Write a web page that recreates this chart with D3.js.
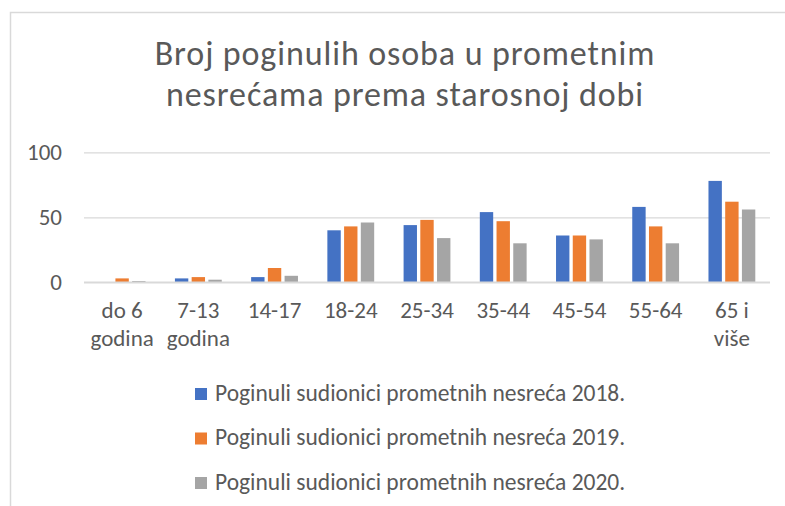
<!DOCTYPE html>
<html>
<head>
<meta charset="utf-8">
<script src="https://cdn.jsdelivr.net/npm/d3@7"></script>
<style>
  html, body { margin: 0; padding: 0; background: #fff; }
  svg { display: block; }
  text { font-family: Carlito, Calibri, Lato, "Open Sans", sans-serif; fill: #595959; }
</style>
</head>
<body>
<svg id="chart" width="785" height="506"></svg>
<script>
const titleLines = ["Broj poginulih osoba u prometnim", "nesrećama prema starosnoj dobi"];
const categories = ["do 6 godina", "7-13 godina", "14-17", "18-24", "25-34", "35-44", "45-54", "55-64", "65 i više"];
const seriesNames = ["Poginuli sudionici prometnih nesreća 2018.", "Poginuli sudionici prometnih nesreća 2019.", "Poginuli sudionici prometnih nesreća 2020."];
const values2018 = [0, 3, 4, 40, 44, 54, 36, 58, 78];
const values2019 = [3, 4, 11, 43, 48, 47, 36, 43, 62];
const values2020 = [1, 2, 5, 46, 34, 30, 33, 30, 56];
const yTicks = [0, 50, 100];
const colors = ["#4472C4", "#ED7D31", "#A5A5A5"];

const seriesValues = [values2018, values2019, values2020];
const svg = d3.select("#chart");

// chart border (partial, as cropped in reference)
svg.append("path")
  .attr("d", "M10.5,506 V12.5 H785")
  .attr("fill", "none").attr("stroke", "#d9d9d9").attr("stroke-width", 1.5);

// title
svg.selectAll("text.title").data(titleLines).join("text")
  .attr("class", "title")
  .attr("x", 405).attr("y", (d, i) => 65 + i * 40.8)
  .attr("text-anchor", "middle")
  .style("font-size", "34px")
  .style("letter-spacing", "0.9px")
  .text(d => d);

const plotLeft = 84, plotRight = 770;
const x0 = d3.scaleBand().domain(categories).range([plotLeft, plotRight]).paddingInner(0).paddingOuter(0);
const groupPad = 14.7;
const x1 = d3.scaleBand().domain(d3.range(3)).range([groupPad, x0.bandwidth() - groupPad]).paddingInner(0.2);
const y = d3.scaleLinear().domain([0, 100]).range([282.3, 152.3]);

// gridlines
const yAxis = d3.axisLeft(y).tickValues(yTicks).tickSize(-(plotRight - plotLeft)).tickPadding(22);
const gy = svg.append("g").attr("transform", `translate(${plotLeft},0)`).call(yAxis);
gy.select(".domain").remove();
gy.selectAll(".tick line").attr("stroke", "#d9d9d9").attr("stroke-width", 1.3);
gy.selectAll(".tick text").attr("fill", "#595959").style("font-size", "23px")
  .style("font-family", "Carlito, Calibri, Lato, 'Open Sans', sans-serif").attr("dy", "0.33em");

// bars
const groups = svg.append("g").selectAll("g").data(categories).join("g")
  .attr("transform", d => `translate(${x0(d)},0)`);
groups.selectAll("rect")
  .data((d, i) => seriesValues.map((s, k) => ({ k, v: s[i] })))
  .join("rect")
  .attr("x", d => x1(d.k))
  .attr("width", x1.bandwidth())
  .attr("y", d => y(d.v))
  .attr("height", d => y(0) - y(d.v))
  .attr("fill", d => colors[d.k]);

// baseline
svg.append("line").attr("x1", plotLeft).attr("x2", plotRight)
  .attr("y1", y(0)).attr("y2", y(0)).attr("stroke", "#d9d9d9").attr("stroke-width", 1.5);

// x axis labels with wrapping
const xAxis = d3.axisBottom(x0).tickSize(0).tickPadding(0);
const gx = svg.append("g").attr("transform", `translate(0,${y(0)})`).call(xAxis);
gx.select(".domain").remove();
gx.selectAll(".tick text").style("font-size", "23px")
  .style("font-family", "Carlito, Calibri, Lato, 'Open Sans', sans-serif")
  .attr("fill", "#595959")
  .each(function (d) {
    const t = d3.select(this);
    const words = d.split(" ");
    t.text(null);
    const maxW = 62;
    let lines = [], cur = [];
    const probe = t.append("tspan");
    words.forEach(w => {
      const test = cur.concat([w]).join(" ");
      probe.text(test);
      if (probe.node().getComputedTextLength() > maxW && cur.length) {
        lines.push(cur.join(" ")); cur = [w];
      } else cur.push(w);
    });
    lines.push(cur.join(" "));
    probe.remove();
    t.attr("y", null).attr("dy", null);
    lines.forEach((l, i) => t.append("tspan").attr("x", 0).attr("y", 36 + i * 28).text(l));
  });

// legend
const legend = svg.append("g").selectAll("g").data(seriesNames).join("g")
  .attr("transform", (d, i) => `translate(195,${388 + i * 44.5})`);
legend.append("rect").attr("width", 12).attr("height", 12).attr("fill", (d, i) => colors[i]);
legend.append("text").attr("x", 20).attr("y", 12.5).style("font-size", "23.5px").text(d => d);
</script>
</body>
</html>
